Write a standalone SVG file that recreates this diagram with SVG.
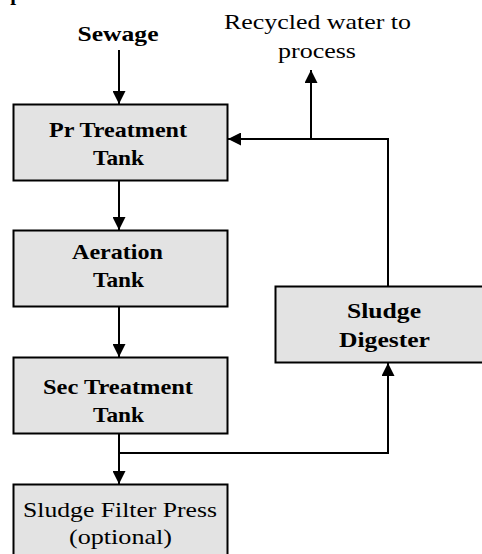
<svg xmlns="http://www.w3.org/2000/svg" width="482" height="554" viewBox="0 0 482 554">
<defs>
<style>
.box{fill:#e3e3e3;stroke:#000;stroke-width:2}
.t{font-family:"Liberation Serif","DejaVu Serif",serif;font-size:21px;fill:#000;text-anchor:middle}
.b{font-weight:bold}
.c{fill:none;stroke:#000;stroke-width:2}
</style>
<marker id="ah" viewBox="0 0 13 13" refX="13" refY="6.5" markerWidth="13" markerHeight="13" orient="auto" markerUnits="userSpaceOnUse"><path d="M0,0 L13,6.5 L0,13 z" fill="#000"/></marker>
</defs>
<rect width="482" height="554" fill="#fff"/>
<text class="t b" x="16" y="0">p</text>
<text class="t b" x="118" y="41" textLength="81" lengthAdjust="spacingAndGlyphs">Sewage</text>
<text class="t" x="317.5" y="29" textLength="187" lengthAdjust="spacingAndGlyphs">Recycled water to</text>
<text class="t" x="317" y="58" textLength="78" lengthAdjust="spacingAndGlyphs">process</text>
<g id="connectors">
<path class="c" d="M119,50 V104" marker-end="url(#ah)"/>
<path class="c" d="M119,181 V230" marker-end="url(#ah)"/>
<path class="c" d="M119,307 V357" marker-end="url(#ah)"/>
<path class="c" d="M119,433 V484" marker-end="url(#ah)"/>
<path class="c" d="M119,453 H388 V363" marker-end="url(#ah)"/>
<path class="c" d="M388,286 V139 H228" marker-end="url(#ah)"/>
<path class="c" d="M311,139 V70" marker-end="url(#ah)"/>
</g>
<g id="pr">
<rect class="box" x="13.5" y="104.5" width="214" height="76"/>
<text class="t b" x="118" y="137" textLength="138" lengthAdjust="spacingAndGlyphs">Pr Treatment</text>
<text class="t b" x="118.5" y="165" textLength="51" lengthAdjust="spacingAndGlyphs">Tank</text>
</g>
<g id="aeration">
<rect class="box" x="13.5" y="230.5" width="214" height="76"/>
<text class="t b" x="117.5" y="259" textLength="91" lengthAdjust="spacingAndGlyphs">Aeration</text>
<text class="t b" x="118.5" y="287" textLength="51" lengthAdjust="spacingAndGlyphs">Tank</text>
</g>
<g id="sec">
<rect class="box" x="13.5" y="357.5" width="214" height="76"/>
<text class="t b" x="118" y="394" textLength="150" lengthAdjust="spacingAndGlyphs">Sec Treatment</text>
<text class="t b" x="118.5" y="422" textLength="51" lengthAdjust="spacingAndGlyphs">Tank</text>
</g>
<g id="filter">
<rect class="box" x="13.5" y="484.5" width="214" height="80"/>
<text class="t" x="120" y="517" textLength="194" lengthAdjust="spacingAndGlyphs">Sludge Filter Press</text>
<text class="t" x="120.5" y="544" textLength="103" lengthAdjust="spacingAndGlyphs">(optional)</text>
</g>
<g id="digester">
<rect class="box" x="275.5" y="286.5" width="220" height="76"/>
<text class="t b" x="384" y="318" textLength="74" lengthAdjust="spacingAndGlyphs">Sludge</text>
<text class="t b" x="384.5" y="347" textLength="91" lengthAdjust="spacingAndGlyphs">Digester</text>
</g>
</svg>
